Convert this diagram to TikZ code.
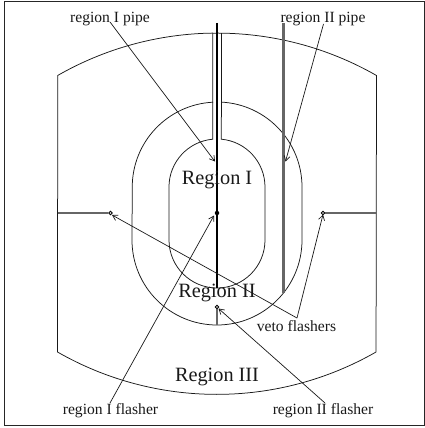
\documentclass[tikz,border=0pt]{standalone}
\usepackage{fontspec}
\setmainfont{Liberation Serif}
\usetikzlibrary{arrows.meta}
\tikzset{
  wall/.style={line width=0.75pt,black!90},
  pipeI/.style={line width=2pt,black},
  pipeII/.style={line width=2.2pt,black!60},
  feed/.style={line width=1.5pt,black!60},
  pointer/.style={line width=0.7pt,black!90,-{Straight Barb[length=5pt,width=6pt]}},
  small/.style={font=\fontsize{15.6}{17}\selectfont,inner sep=0pt,text=black!90},
  big/.style={font=\fontsize{20.3}{22}\selectfont,inner sep=0pt,text=black!90},
  flasher/.style={circle,draw,line width=0.9pt,fill=white,inner sep=0pt,minimum size=3.6pt},
  flasherI/.style={circle,fill=black,inner sep=0pt,minimum size=4.5pt}
}
\begin{document}
\begin{tikzpicture}[x=1pt,y=-1pt]
\useasboundingbox (0,0) rectangle (425,428);
\draw[line width=0.9pt,black!85] (4.5,1) -- (424.5,1) -- (424.5,425.5) -- (4.5,425.5) -- cycle;
% outer shape
\draw[wall] (212.8,33.1) arc[start angle=-90.75,end angle=-119.8,radius=320.5]
  -- (57.5,352) arc[start angle=-240.2,end angle=-299.8,radius=320.5]
  -- (376.5,75.5) arc[start angle=-60.2,end angle=-90.75,radius=320.5];
% chimney and middle shell
\draw[wall] (212.8,33.1) -- (212.8,102.2) arc[start angle=-93,end angle=-180,radius=85]
  -- (132,240) arc[start angle=-180,end angle=-360,radius=85]
  -- (302,187) arc[start angle=0,end angle=-87,radius=85] -- (221.5,33.1);
% inner shell
\draw[wall] (212.8,102.2) -- (212.8,139.2) arc[start angle=-95,end angle=-180,radius=48]
  -- (169,240) arc[start angle=-180,end angle=-360,radius=48]
  -- (265,187) arc[start angle=0,end angle=-85,radius=48] -- (221.5,102.2);
% flashers
\node[flasherI] (fI) at (217,213) {};
\node[flasher] (fL) at (110.5,213) {};
\node[flasher] (fR) at (323,213) {};
\node[flasher] (fII) at (217,307) {};
\coordinate (wL) at (57.5,213);
\coordinate (wR) at (376.5,213);
\coordinate (wB) at (217,325);
\draw[feed] (wL) -- (fL);
\draw[feed] (wR) -- (fR);
\draw[feed] (wB) -- (fII);
% pipes
\coordinate (pI) at (217,23);
\coordinate (pIb) at (217,288);
\coordinate (pII) at (283.5,23);
\coordinate (pIIb) at (283.5,293);
\draw[pipeI] (pI) -- (pIb);
\draw[pipeII] (pII) -- (pIIb);
% labels
\node[big] (rI) at (217,180) {Region I};
\node[big] (rII) at (217,292.5) {Region II};
\node[big] (rIII) at (217,377) {Region III};
\node[small] (lI) at (110,19) {region I pipe};
\node[small] (lII) at (323,19) {region II pipe};
\node[small] (lfI) at (110.5,411) {region I flasher};
\node[small] (lfII) at (323,411) {region II flasher};
\node[small] (lv) at (296.5,326) {veto flashers};
% pointers
\coordinate (lIs) at (110,22);
\coordinate (lIIs) at (323.5,24);
\coordinate (lfIs) at (110,403);
\coordinate (lfIIs) at (325,403);
\coordinate (lvs) at (297,318);
\coordinate (tI) at (215,161.5);
\coordinate (tII) at (285.5,161.5);
\coordinate (tfI) at (214,215.5);
\coordinate (tfII) at (218.5,308.5);
\coordinate (tL) at (112,215);
\coordinate (tR) at (323,214.5);
\draw[pointer] (lIs) -- (tI);
\draw[pointer] (lIIs) -- (tII);
\draw[pointer] (lfIs) -- (tfI);
\draw[pointer] (lfIIs) -- (tfII);
\draw[pointer] (lvs) -- (tL);
\draw[pointer] (lvs) -- (tR);
\end{tikzpicture}
\end{document}
